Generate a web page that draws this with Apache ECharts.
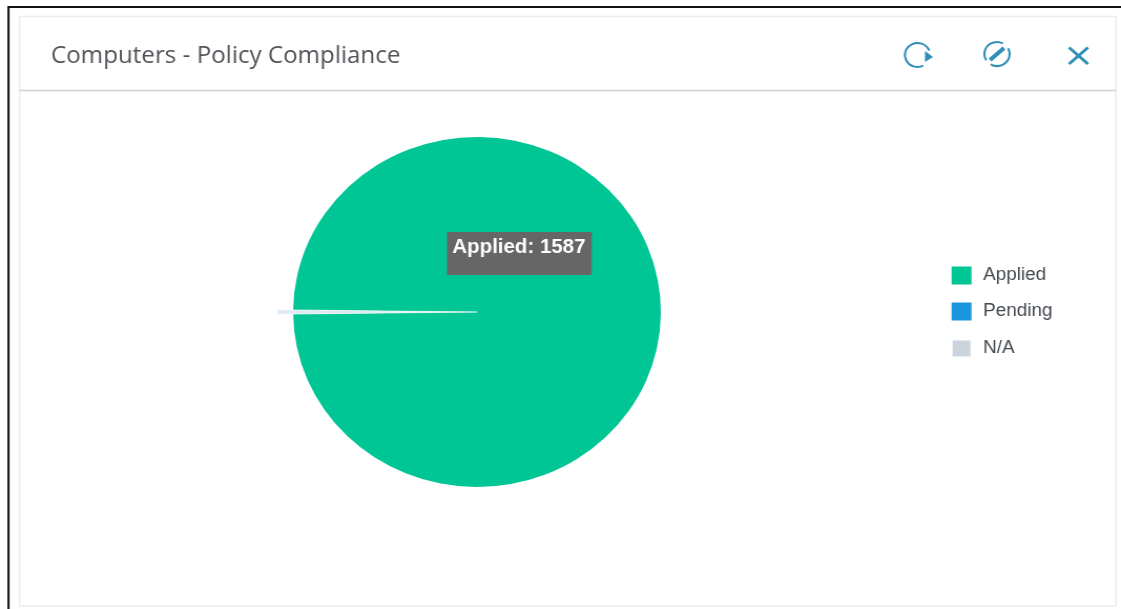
<!DOCTYPE html>
<html>
<head>
<meta charset="utf-8">
<script src="https://cdn.jsdelivr.net/npm/echarts@6/dist/echarts.min.js"></script>
<style>
  html, body { margin: 0; padding: 0; background: #fff; overflow: hidden; }
  /* The widget is laid out 1067 wide and stretched a little to fill the window. */
  #chart { width: 1067px; height: 609px; transform: scaleX(1.0506); transform-origin: 0 0; }
</style>
</head>
<body>
<div id="chart"></div>
<script>
const titleText = 'Computers - Policy Compliance';
const categories = ['Applied', 'Pending', 'N/A'];
const values = [1587, 0, 6];
const colors = ['#00c595', '#1996dd', '#cbd4dd'];

const sx = 1.0506;
const X = px => px / sx;
const iconColor = '#2f8fb8';
const chart = echarts.init(document.getElementById('chart'), null, { renderer: 'canvas' });

// Share of the circle taken by N/A, used to centre that slice on the left.
const total = values.reduce((a, b) => a + b, 0);
const naAngle = values[2] / total * 360;

chart.setOption({
  animation: false,
  backgroundColor: '#fff',
  color: colors,
  title: {
    text: titleText,
    left: X(51),
    top: 45,
    padding: 0,
    textStyle: { fontFamily: 'Open Sans', fontSize: 23, fontWeight: 'normal', color: '#505458' }
  },
  legend: {
    orient: 'vertical',
    left: X(950.5),
    top: 266.5,
    padding: 0,
    icon: 'rect',
    itemWidth: 19,
    itemHeight: 18,
    itemGap: 18,
    selectedMode: false,
    data: categories,
    textStyle: { fontFamily: 'Liberation Sans', fontSize: 18, color: '#44494f', padding: [0, 0, 0, 6] }
  },
  graphic: [
    // Outer black frame
    { type: 'rect', shape: { x: X(8.5), y: 7, width: 2000, height: 1000 }, style: { fill: 'none', stroke: '#111', lineWidth: 2 }, silent: true },
    // Card outline and header rule
    { type: 'rect', shape: { x: X(19.5), y: 16.5, width: X(1096.5), height: 589.5 }, style: { fill: 'none', stroke: '#ececec', lineWidth: 1.5 }, silent: true },
    { type: 'line', shape: { x1: X(19.5), y1: 90.5, x2: X(1116), y2: 90.5 }, style: { stroke: '#cfcfcf', lineWidth: 1.5 }, silent: true },
    // Refresh icon
    { type: 'arc', shape: { cx: X(917.5), cy: 55, r: 12, startAngle: 1.1, endAngle: 5.9, clockwise: true }, style: { fill: 'none', stroke: iconColor, lineWidth: 2 }, silent: true },
    { type: 'polygon', shape: { points: [[X(925), 51], [X(933), 57], [X(925), 62]] }, style: { fill: iconColor }, silent: true },
    // Edit icon
    { type: 'arc', shape: { cx: X(997), cy: 54, r: 12, startAngle: -0.5, endAngle: 2.1, clockwise: true }, style: { fill: 'none', stroke: iconColor, lineWidth: 2 }, silent: true },
    { type: 'arc', shape: { cx: X(997), cy: 54, r: 12, startAngle: 2.6, endAngle: 5.2, clockwise: true }, style: { fill: 'none', stroke: iconColor, lineWidth: 2 }, silent: true },
    { type: 'line', shape: { x1: X(990), y1: 60, x2: X(1004), y2: 48 }, style: { stroke: iconColor, lineWidth: 4 }, silent: true },
    // Close icon
    { type: 'line', shape: { x1: X(1069), y1: 47.5, x2: X(1088), y2: 64 }, style: { stroke: iconColor, lineWidth: 3 }, silent: true },
    { type: 'line', shape: { x1: X(1088), y1: 47.5, x2: X(1069), y2: 64 }, style: { stroke: iconColor, lineWidth: 3 }, silent: true }
  ],
  series: [{
    type: 'pie',
    center: [X(477), 312],
    radius: [0, 175],
    startAngle: 180 - naAngle / 2,
    clockwise: true,
    label: { show: false },
    labelLine: { show: false },
    // The Applied callout sits in a fixed spot over the slice.
    labelLayout: { x: X(447), y: 232, align: 'left', verticalAlign: 'top', hideOverlap: false },
    emphasis: { scale: true, scaleSize: 15 },
    data: categories.map((name, i) => ({
      name,
      value: values[i],
      itemStyle: i === 2 ? { borderColor: '#fff', borderWidth: 0.6 } : {},
      label: i === 0 ? {
        show: true,
        formatter: '{b}: {c}',
        fontFamily: 'Liberation Sans',
        fontSize: 19.5,
        fontWeight: 'bold',
        color: '#fff',
        lineHeight: 22,
        backgroundColor: '#666666',
        padding: [5, 6, 16, 5],
        textBorderWidth: 0
      } : { show: false }
    }))
  }]
});

// The N/A slice stays raised.
chart.dispatchAction({ type: 'highlight', seriesIndex: 0, dataIndex: 2 });
</script>
</body>
</html>
